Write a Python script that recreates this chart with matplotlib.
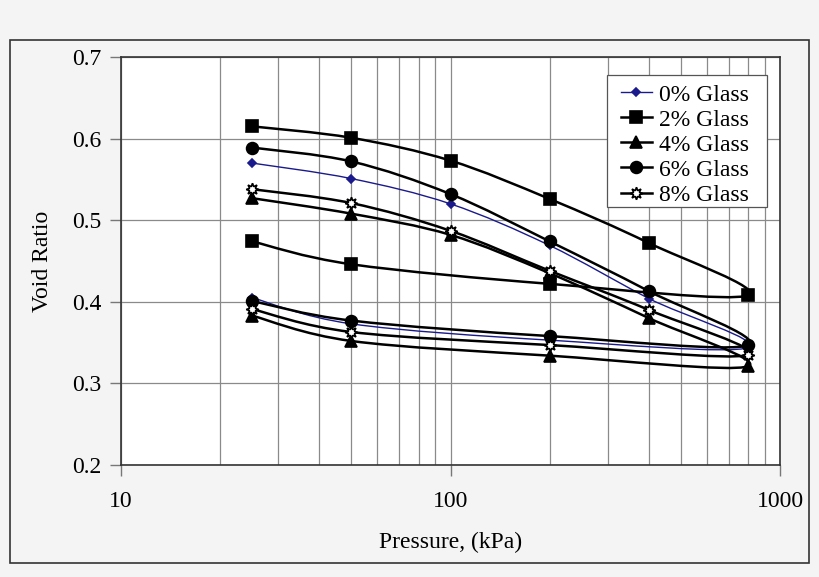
import numpy as np
import matplotlib
matplotlib.use("Agg")
import matplotlib.pyplot as plt
from matplotlib.path import Path
from matplotlib.patches import PathPatch, Rectangle
from matplotlib.lines import Line2D
from matplotlib.ticker import LogLocator, NullFormatter, FixedLocator

plt.rcParams['font.family'] = ['Liberation Serif', 'DejaVu Serif']

pressure = [25, 50, 100, 200, 400, 800, 200, 50, 25]
labels = ["0% Glass", "2% Glass", "4% Glass", "6% Glass", "8% Glass"]
glass0 = [0.570, 0.551, 0.520, 0.469, 0.404, 0.344, 0.353, 0.373, 0.405]
glass2 = [0.615, 0.601, 0.573, 0.526, 0.472, 0.408, 0.422, 0.446, 0.474]
glass4 = [0.527, 0.508, 0.482, 0.435, 0.380, 0.321, 0.334, 0.352, 0.383]
glass6 = [0.589, 0.572, 0.532, 0.474, 0.413, 0.347, 0.358, 0.377, 0.401]
glass8 = [0.538, 0.521, 0.487, 0.438, 0.390, 0.335, 0.347, 0.363, 0.391]
y_ticks = [0.2, 0.3, 0.4, 0.5, 0.6, 0.7]
x_ticks = [10, 100, 1000]

series = [glass0, glass2, glass4, glass6, glass8]
styles = [
    dict(color='#1a1a8c', lw=1.0, marker='D', ms=4.5, mfc='#1a1a8c', mec='#1a1a8c'),
    dict(color='black', lw=1.8, marker='s', ms=8.5, mfc='black', mec='black'),
    dict(color='black', lw=1.8, marker='^', ms=8, mfc='black', mec='black'),
    dict(color='black', lw=1.8, marker='o', ms=8.5, mfc='black', mec='black'),
    dict(color='black', lw=1.8, marker=(8, 1, 0), ms=9, mfc='white', mec='black'),
]

W, H = 820, 577
fig = plt.figure(figsize=(8.2, 5.77), dpi=100)
fig.patch.set_facecolor('#f4f4f4')
fig.patches.append(Rectangle((10 / W, 1 - 563 / H), 799 / W, 523 / H,
                             transform=fig.transFigure, fill=False,
                             edgecolor='#333333', lw=1.2, zorder=0))

ax = fig.add_axes([121 / W, 1 - 465 / H, 659 / W, 408 / H])
ax.set_facecolor('white')
ax.set_xscale('log')
ax.set_xlim(10, 1000)
ax.set_ylim(0.2, 0.7)


def smooth_patch(xs, ys, **kw):
    pts = np.column_stack([np.log10(np.asarray(xs, float)), np.asarray(ys, float)])
    n = len(pts)
    verts = [pts[0]]
    codes = [Path.MOVETO]
    for i in range(n - 1):
        p0 = pts[i - 1] if i > 0 else pts[i]
        p3 = pts[i + 2] if i + 2 < n else pts[i + 1]
        c1 = pts[i] + (pts[i + 1] - p0) / 6.0
        c2 = pts[i + 1] - (p3 - pts[i]) / 6.0
        verts += [c1, c2, pts[i + 1]]
        codes += [Path.CURVE4] * 3
    verts = np.array(verts)
    verts[:, 0] = 10 ** verts[:, 0]
    return PathPatch(Path(verts, codes), fill=False, transform=ax.transData, **kw)


handles = []
for vals, st, lab in zip(series, styles, labels):
    ax.add_patch(smooth_patch(pressure, vals, edgecolor=st['color'], lw=st['lw'],
                              zorder=3, capstyle='round', joinstyle='round'))
    ax.plot(pressure, vals, linestyle='none', marker=st['marker'], ms=st['ms'],
            mfc=st['mfc'], mec=st['mec'], mew=1.2, zorder=4)
    handles.append(Line2D([], [], color=st['color'], lw=st['lw'], marker=st['marker'],
                          ms=st['ms'], mfc=st['mfc'], mec=st['mec'], mew=1.2))

ax.xaxis.set_major_locator(FixedLocator(x_ticks))
ax.xaxis.set_minor_locator(LogLocator(base=10, subs=np.arange(2, 10)))
ax.xaxis.set_minor_formatter(NullFormatter())
ax.set_xticklabels([str(v) for v in x_ticks])
ax.set_yticks(y_ticks)
ax.set_yticklabels([f"{v:.1f}" for v in y_ticks])
ax.grid(True, which='major', axis='both', color='#8a8a8a', lw=0.9)
ax.grid(True, which='minor', axis='x', color='#8a8a8a', lw=0.9)
ax.set_axisbelow(True)
ax.tick_params(axis='both', which='major', labelsize=17, direction='out',
               length=8, width=1, color='#777777', pad=6)
ax.tick_params(axis='x', which='minor', length=0)
ax.tick_params(axis='x', which='major', pad=11)
for s in ax.spines.values():
    s.set_color('#333333')
    s.set_linewidth(1.2)

ax.set_xlabel("Pressure, (kPa)", fontsize=17, labelpad=14)
ax.set_ylabel("Void Ratio", fontsize=17, labelpad=14)

# legend frame drawn separately to match the reference padding
frame = Rectangle((607 / W, 1 - 207 / H), 160 / W, 132 / H, transform=fig.transFigure,
                  facecolor='white', edgecolor='#555555', lw=0.9, zorder=9, clip_on=False)
ax.add_patch(frame)

leg = ax.legend(handles, labels, loc='upper left', bbox_to_anchor=(621 / W, 1 - 84 / H),
                bbox_transform=fig.transFigure, fontsize=17, handlelength=1.3,
                handletextpad=0.3, labelspacing=0.15, borderpad=0.0,
                frameon=False, borderaxespad=0)
leg.set_zorder(10)

fig.savefig("out.png", dpi=100, facecolor=fig.get_facecolor())
